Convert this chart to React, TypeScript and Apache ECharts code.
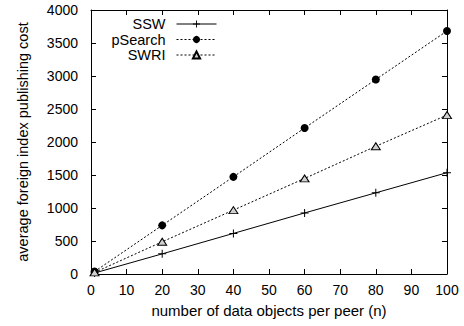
import React, { useEffect, useRef } from "react";
import * as echarts from "echarts";

const xValues = [1, 20, 40, 60, 80, 100];
const sswValues = [15, 305, 615, 925, 1230, 1535];
const pSearchValues = [37, 737, 1472, 2212, 2947, 3682];
const swriValues = [24, 488, 968, 1448, 1935, 2408];
const seriesNames = ["SSW", "pSearch", "SWRI"];
const xTitle = "number of data objects per peer (n)";
const yTitle = "average foreign index publishing cost";

const FONT = "Liberation Sans, Arial, Helvetica, sans-serif";
const PLUS = "path://M3.5,0h1v8h-1z M0,3.5h8v1h-8z";

export default function App() {
  const ref = useRef<HTMLDivElement>(null);
  useEffect(() => {
    if (!ref.current) return;
    const chart = echarts.init(ref.current, undefined, { renderer: "svg" });
    const pairs = (ys: number[]) => xValues.map((x, i) => [x, ys[i]]);
    const axisCommon = {
      type: "value" as const,
      axisLine: { show: true, onZero: false, lineStyle: { color: "#000", width: 1 } },
      axisTick: { show: true, inside: true, length: 5, lineStyle: { color: "#000" } },
      splitLine: { show: false },
    };
    const labelStyle = {
      fontFamily: FONT,
      fontSize: 14,
      color: "#000",
      formatter: (v: number) => String(v),
    };
    const legendTops = [16.5, 32, 47.5];
    const legends = seriesNames.map((name, i) => ({
      orient: "vertical",
      align: "right",
      right: 247,
      top: legendTops[i],
      padding: 0,
      itemWidth: 40,
      itemHeight: 9,
      data: [name],
      lineStyle: { width: 1 },
      textStyle: {
        fontFamily: FONT,
        fontSize: 14.5,
        color: "#000",
        padding: [0, 6, 0, 0],
      },
    }));
    chart.setOption({
      animation: false,
      backgroundColor: "#fff",
      textStyle: { fontFamily: FONT },
      grid: { left: 91, right: 17, top: 10, bottom: 52 },
      legend: legends,
      xAxis: [
        {
          ...axisCommon,
          position: "bottom",
          min: 0,
          max: 100,
          interval: 10,
          name: xTitle,
          nameLocation: "middle",
          nameGap: 29,
          nameTextStyle: { fontFamily: FONT, fontSize: 15, color: "#000" },
          axisLabel: { ...labelStyle, margin: 9 },
        },
        {
          ...axisCommon,
          position: "top",
          min: 0,
          max: 100,
          interval: 10,
          axisLabel: { show: false },
        },
      ],
      yAxis: [
        {
          ...axisCommon,
          position: "left",
          min: 0,
          max: 4000,
          interval: 500,
          name: yTitle,
          nameLocation: "middle",
          nameGap: 61,
          nameTextStyle: { fontFamily: FONT, fontSize: 14.5, color: "#000" },
          axisLabel: { ...labelStyle, margin: 13 },
        },
        {
          ...axisCommon,
          position: "right",
          min: 0,
          max: 4000,
          interval: 500,
          axisLabel: { show: false },
        },
      ],
      series: [
        {
          name: seriesNames[0],
          type: "line",
          data: pairs(sswValues),
          symbol: PLUS,
          symbolSize: 8,
          itemStyle: { color: "#000" },
          lineStyle: { color: "#000", width: 1, type: "solid" },
        },
        {
          name: seriesNames[1],
          type: "line",
          data: pairs(pSearchValues),
          symbol: "circle",
          symbolSize: 8,
          itemStyle: { color: "#000" },
          lineStyle: { color: "#000", width: 1, type: [2, 2] },
        },
        {
          name: seriesNames[2],
          type: "line",
          data: pairs(swriValues),
          symbol: "triangle",
          symbolSize: [9, 7],
          itemStyle: { color: "#d0d0d0", borderColor: "#000", borderWidth: 1 },
          lineStyle: { color: "#000", width: 1, type: [2, 2] },
        },
      ],
    });
    return () => chart.dispose();
  }, []);
  return <div ref={ref} style={{ width: 464, height: 326, position: "absolute", left: 0, top: 0 }} />;
}
